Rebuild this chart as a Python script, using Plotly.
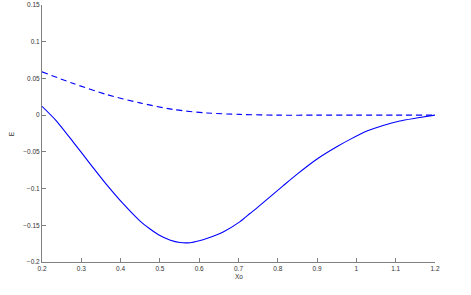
import plotly.graph_objects as go

# Solid curve (E vs Xo)
solid_x = [0.2, 0.237, 0.28, 0.322, 0.365, 0.407, 0.449, 0.475, 0.5, 0.525, 0.551, 0.577,
           0.6, 0.619, 0.661, 0.704, 0.729, 0.75, 0.814, 0.85, 0.899, 0.95, 0.984, 1.03,
           1.068, 1.11, 1.153, 1.2]
solid_y = [0.012, -0.008, -0.037, -0.066, -0.095, -0.121, -0.144, -0.155, -0.164, -0.170,
           -0.1735, -0.1737, -0.171, -0.168, -0.159, -0.145, -0.134, -0.125, -0.096, -0.08,
           -0.060, -0.043, -0.033, -0.021, -0.014, -0.008, -0.004, 0.0]

# Dashed curve
dash_x = [0.2, 0.28, 0.365, 0.449, 0.534, 0.619, 0.704, 0.8, 0.9, 1.0, 1.1, 1.2]
dash_y = [0.059, 0.043, 0.028, 0.0167, 0.0077, 0.003, 0.001, 0.0, 0.0, 0.0, 0.0, 0.0]

x_ticks = [0.2, 0.3, 0.4, 0.5, 0.6, 0.7, 0.8, 0.9, 1.0, 1.1, 1.2]
x_ticktext = ["0.2", "0.3", "0.4", "0.5", "0.6", "0.7", "0.8", "0.9", "1", "1.1", "1.2"]
y_ticks = [0.15, 0.1, 0.05, 0, -0.05, -0.1, -0.15, -0.2]
y_ticktext = ["0.15", "0.1", "0.05", "0", "\u22120.05", "\u22120.1", "\u22120.15", "\u22120.2"]

fig = go.Figure()
fig.add_trace(go.Scatter(x=dash_x, y=dash_y, mode="lines",
                         line=dict(color="#0000ff", width=1.1, dash="6px,4px", shape="spline",
                                   smoothing=0.8),
                         showlegend=False))
fig.add_trace(go.Scatter(x=solid_x, y=solid_y, mode="lines",
                         line=dict(color="#0000ff", width=1.1, shape="spline", smoothing=0.6),
                         showlegend=False))

axis_font = dict(family="Liberation Sans, Arial, sans-serif", size=6.5, color="#333333")
fig.update_layout(
    width=471, height=295,
    margin=dict(l=42, r=36, t=5, b=33),
    paper_bgcolor="white", plot_bgcolor="white",
    font=axis_font,
    xaxis=dict(range=[0.2, 1.2], tickvals=x_ticks, ticktext=x_ticktext, automargin=False,
               showgrid=False, zeroline=False, showline=True, linecolor="#808080",
               linewidth=1, ticks="inside", ticklen=4, tickcolor="#808080", tickfont=axis_font),
    yaxis=dict(range=[-0.2, 0.15], tickvals=y_ticks, ticktext=y_ticktext, automargin=False,
               showgrid=False, zeroline=False, showline=True, linecolor="#808080",
               linewidth=1, ticks="inside", ticklen=4, tickcolor="#808080", tickfont=axis_font),
    annotations=[
        dict(text="Xo", x=0.5, y=-0.055, xref="paper", yref="paper", showarrow=False,
             xanchor="center", yanchor="middle", font=axis_font),
        dict(text="E", x=-0.077, y=0.5, xref="paper", yref="paper", showarrow=False,
             xanchor="center", yanchor="middle", textangle=-90, font=axis_font),
    ],
)

fig.write_html("out.html", config={"displayModeBar": False},
               post_script="document.body.style.margin='0px';")
